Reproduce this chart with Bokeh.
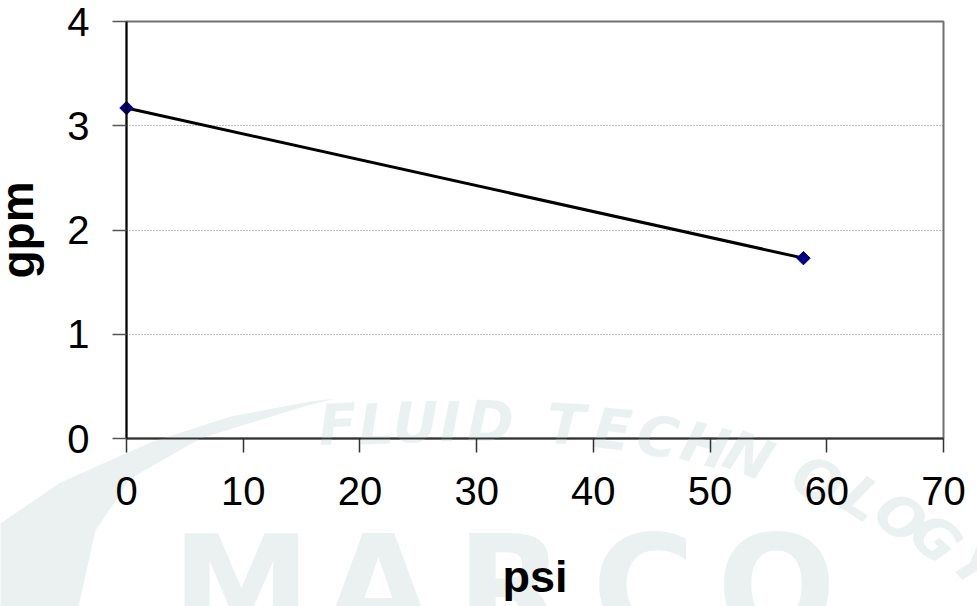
import math
from bokeh.plotting import figure
from bokeh.models import ColumnDataSource, Range1d
from bokeh.core.properties import value
from bokeh.embed import file_html
from bokeh.resources import INLINE

# ---- data ----
psi = [0, 58]
gpm = [3.17, 1.73]
x_ticks = [0, 10, 20, 30, 40, 50, 60, 70]
y_ticks = [0, 1, 2, 3, 4]
x_title = "psi"
y_title = "gpm"

WM = "#ebf1f1"
FONT = "Liberation Sans"

# frame occupies canvas pixels x 126..943, y 21..438
FL, FR, FT, FB = 126, 943, 21, 438
p = figure(width=977, height=606, x_range=(0, 70), y_range=(0, 4),
           output_backend="svg", toolbar_location=None,
           min_border_left=FL, min_border_right=977 - FR, min_border_top=FT,
           min_border_bottom=606 - FB)
p.background_fill_color = "white"
p.border_fill_color = "white"
p.outline_line_color = "#707070"
p.outline_line_width = 2
# pixel ranges for decoration and titles (values = canvas pixels)
p.extra_x_ranges = {"px": Range1d(FL, FR)}
p.extra_y_ranges = {"px": Range1d(FB, FT)}

# ---- watermark (decoration, canvas pixels) ----
sw_x = [0, 60, 150, 230, 310, 335, 300, 200, 130, 95, 78, 0]
sw_y = [523, 482, 442, 416, 401, 398, 407, 438, 478, 530, 606, 606]
sw = p.patch(sw_x, sw_y, x_range_name="px", y_range_name="px",
             fill_color=WM, line_color=None)
sw.level = "overlay"

marco = p.text(x=[241, 378, 510, 643, 776], y=[587] * 5, text=list("MARCO"),
               x_range_name="px", y_range_name="px",
               text_font=value("DejaVu Sans"), text_font_style="bold",
               text_font_size="140px", text_color=WM,
               text_align="center", text_baseline="middle")
marco.level = "overlay"

wm_chars = list("FLUIDTECHNOLOGY")
wm_x = [337, 376, 415, 450, 490, 565, 612, 657, 705, 748, 817, 862, 900, 935, 975]
wm_y = [424, 424, 422, 421, 421, 424, 429, 436, 445, 455, 480, 498, 517, 538, 565]
wm_a = [3, 2, 1, 0, -1, -3, -6, -10, -15, -21, -28, -33, -38, -43, -48]
wm = p.text(x=wm_x, y=wm_y, text=wm_chars, angle=[math.radians(a) for a in wm_a],
            x_range_name="px", y_range_name="px",
            text_font=value("DejaVu Sans"), text_font_style="bold italic",
            text_font_size="56px", text_color=WM,
            text_align="center", text_baseline="middle")
wm.level = "overlay"

# ---- data marks ----
src = ColumnDataSource(dict(psi=psi, gpm=gpm))
p.line("psi", "gpm", source=src, line_color="black", line_width=3)
pts = p.scatter("psi", "gpm", source=src, marker="square", size=9.5, angle=math.pi / 4,
                fill_color="#000080", line_color="#000080")
pts.level = "overlay"

# ---- axes ----
p.xaxis.ticker = x_ticks
p.yaxis.ticker = y_ticks
for ax in (p.xaxis[0], p.yaxis[0]):
    ax.level = "overlay"
    ax.major_label_text_font = FONT
    ax.major_label_text_font_size = "40px"
    ax.major_label_text_color = "black"
    ax.major_tick_out = 14
    ax.major_tick_in = 0
    ax.minor_tick_line_color = None
    ax.axis_line_width = 2
    ax.major_tick_line_width = 1.5

p.xaxis.axis_line_color = "#333333"
p.xaxis.major_tick_line_color = "#333333"
p.yaxis.axis_line_color = "black"
p.yaxis.major_tick_line_color = "#555555"
p.xaxis.major_label_standoff = 24
p.yaxis.major_label_standoff = 23

# axis titles as text (placed in canvas pixels)
tx = p.text(x=[(FL + FR) / 2], y=[576], text=[x_title],
            x_range_name="px", y_range_name="px",
            text_font=value(FONT), text_font_style="bold", text_font_size="45px",
            text_color="black", text_align="center", text_baseline="middle")
tx.level = "overlay"
ty = p.text(x=[17], y=[(FT + FB) / 2], text=[y_title], angle=[math.pi / 2],
            x_range_name="px", y_range_name="px",
            text_font=value(FONT), text_font_style="bold", text_font_size="46px",
            text_color="black", text_align="center", text_baseline="middle")
ty.level = "overlay"

p.xgrid.grid_line_color = None
p.ygrid.grid_line_color = "#808080"
p.ygrid.grid_line_dash = "1 2"
p.ygrid.grid_line_width = 1

open("out.html", "w").write(file_html(p, INLINE))
